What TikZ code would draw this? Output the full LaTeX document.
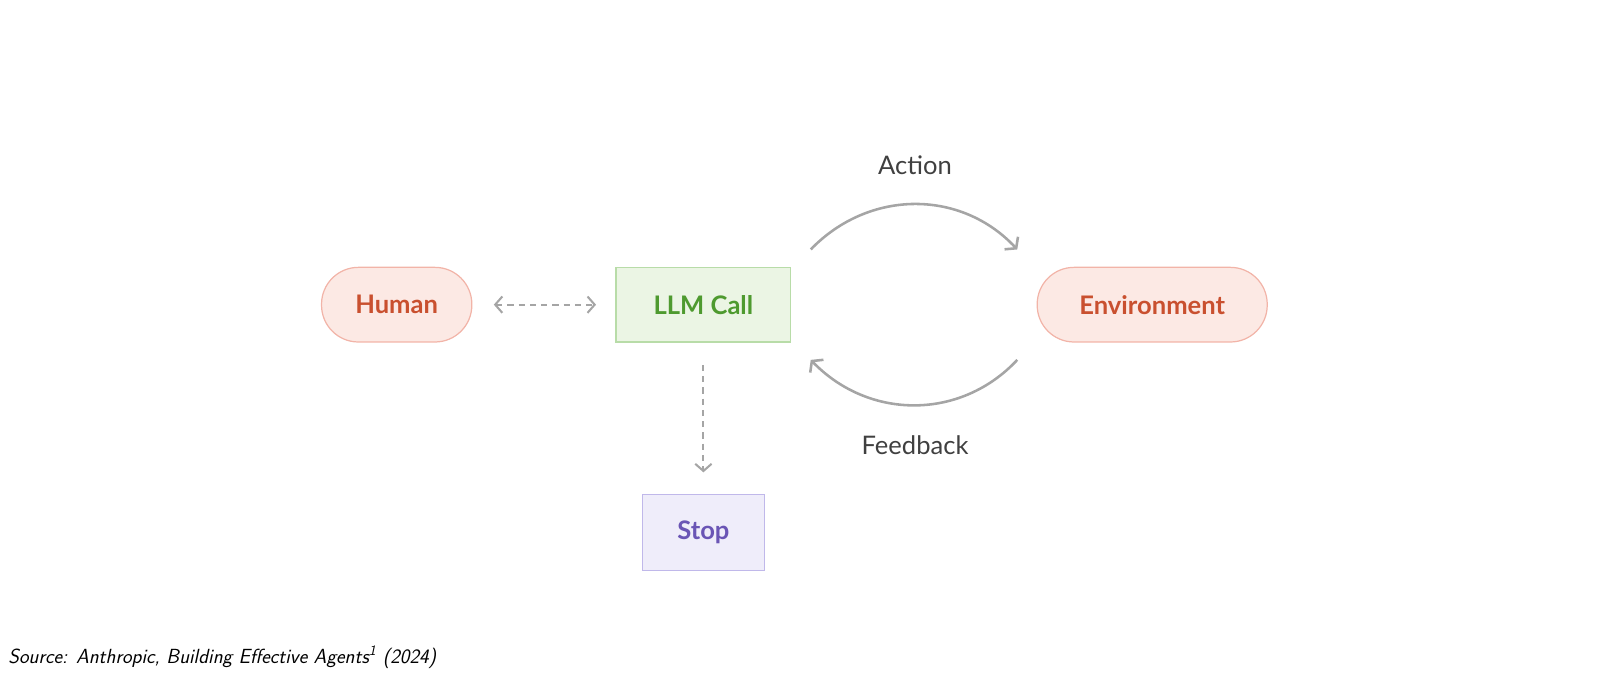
\documentclass[tikz,border=0pt]{standalone}
\usepackage{fontspec}
\setmainfont{Lato}
\usetikzlibrary{arrows.meta}
\definecolor{hfill}{HTML}{FCE9E4}\definecolor{hdraw}{HTML}{F2B4A8}\definecolor{htext}{HTML}{C9502F}
\definecolor{lfill}{HTML}{EBF5E4}\definecolor{ldraw}{HTML}{B8DCA8}\definecolor{ltext}{HTML}{4E9A2F}
\definecolor{sfill}{HTML}{EFEDFA}\definecolor{sdraw}{HTML}{C0B8EA}\definecolor{stext}{HTML}{6A55B5}
\definecolor{arr}{HTML}{A5A5A5}
\begin{document}%
\begin{tikzpicture}[x=1pt,y=-1pt,
 pill/.style={rounded corners=36pt,fill=hfill,draw=hdraw,line width=1.2pt,text=htext,font=\fontsize{25}{30}\selectfont\bfseries,minimum height=73pt,inner sep=0pt},
 boxg/.style={fill=lfill,draw=ldraw,line width=1.2pt,text=ltext,font=\fontsize{25}{30}\selectfont\bfseries,minimum height=73pt,minimum width=171pt,inner sep=0pt},
 boxs/.style={fill=sfill,draw=sdraw,line width=1.2pt,text=stext,font=\fontsize{25}{30}\selectfont\bfseries,minimum height=74pt,minimum width=119pt,inner sep=0pt},
 darr/.style={draw=arr,line width=2pt,dash pattern=on 6pt off 5pt,-{Straight Barb[length=7pt,width=16pt,line width=2pt]}},
 carr/.style={draw=arr,line width=2.5pt,-{Straight Barb[length=7pt,width=18pt,line width=2.5pt]}},
 lbl/.style={text=black!75,font=\fontsize{25}{30}\selectfont}]
\useasboundingbox (0,0) rectangle (1565,659.3);
\node[pill,minimum width=147pt] (human) at (388,298) {Human};
\node[boxg] (llm) at (688,298) {LLM Call};
\node[pill,minimum width=225pt] (env) at (1127,298) {Environment};
\node[boxs] (stop) at (688,521) {Stop};
\coordinate (hl) at (483,298); \coordinate (hr) at (583,298);
\draw[darr,{Straight Barb[length=7pt,width=16pt,line width=2pt]}-{Straight Barb[length=7pt,width=16pt,line width=2pt]}] (hl) -- (hr);
\coordinate (vt) at (688,357); \coordinate (vb) at (688,462);
\draw[darr] (vt) -- (vb);
\coordinate (a1) at (793,244); \coordinate (a2) at (995,244);
\draw[carr] (a1) .. controls (850,185) and (940,185) .. (a2);
\coordinate (f1) at (995,352); \coordinate (f2) at (793,352);
\draw[carr] (f1) .. controls (940,411) and (850,411) .. (f2);
\node[lbl] (act) at (895,162) {Action};
\node[lbl] (fb) at (895,435) {Feedback};
\node[anchor=west,font=\sffamily\itshape\fontsize{20}{24}\selectfont,inner sep=0pt] (src) at (8,643) {Source: Anthropic, Building Effective Agents\textsuperscript{1} (2024)};
\end{tikzpicture}%
\end{document}
